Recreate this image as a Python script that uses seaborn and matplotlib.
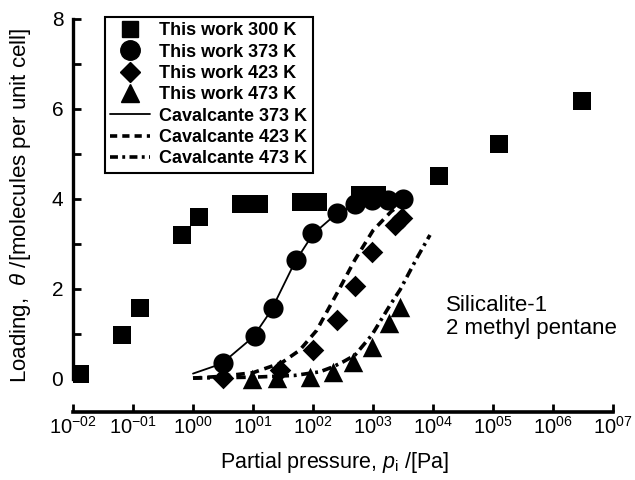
import matplotlib
matplotlib.use("Agg")
import matplotlib.pyplot as plt
import numpy as np
import pandas as pd
import seaborn as sns
from matplotlib.lines import Line2D
from matplotlib.ticker import FixedLocator, NullLocator

# ---------------- data ----------------
p_300 = [0.013, 0.066, 0.13, 0.66, 1.26, 6.3, 12.6, 63, 121, 610, 1170, 12600, 126000, 3.0e6]
theta_300 = [0.12, 0.98, 1.58, 3.20, 3.60, 3.89, 3.89, 3.93, 3.93, 4.09, 4.09, 4.51, 5.22, 6.18]

p_373 = [3.16, 10.8, 21.5, 52, 96, 250, 500, 960, 1780, 3160]
theta_373 = [0.36, 0.96, 1.58, 2.64, 3.24, 3.69, 3.89, 3.98, 3.98, 4.00]

p_423 = [3.16, 28, 100, 250, 500, 960, 2340, 3020]
theta_423 = [0.02, 0.20, 0.64, 1.31, 2.07, 2.82, 3.42, 3.58]

p_473 = [9.6, 25, 89, 215, 465, 960, 1860, 2820]
theta_473 = [0.00, 0.02, 0.04, 0.16, 0.38, 0.71, 1.24, 1.60]

cav_p_373 = [1, 3, 10, 20, 50, 100, 250, 500, 1000, 3000]
cav_theta_373 = [0.12, 0.34, 0.93, 1.52, 2.60, 3.22, 3.68, 3.86, 3.96, 4.02]

cav_p_423 = [1, 3, 10, 30, 60, 115, 250, 500, 1000, 2000, 2400]
cav_theta_423 = [0.02, 0.06, 0.14, 0.36, 0.64, 1.08, 1.90, 2.65, 3.30, 3.72, 3.80]

cav_p_473 = [1, 10, 50, 130, 215, 316, 500, 960, 1920, 2820, 5400, 8900]
cav_theta_473 = [0.02, 0.04, 0.08, 0.16, 0.27, 0.38, 0.53, 0.98, 1.64, 1.98, 2.69, 3.20]

x_ticks = [1e-2, 1e-1, 1e0, 1e1, 1e2, 1e3, 1e4, 1e5, 1e6, 1e7]
x_ticklabels = [r"$\mathregular{10^{-02}}$", r"$\mathregular{10^{-01}}$", r"$\mathregular{10^{00}}$",
                r"$\mathregular{10^{01}}$", r"$\mathregular{10^{02}}$", r"$\mathregular{10^{03}}$",
                r"$\mathregular{10^{04}}$", r"$\mathregular{10^{05}}$", r"$\mathregular{10^{06}}$",
                r"$\mathregular{10^{07}}$"]
y_ticks = [0, 2, 4, 6, 8]
y_minor = [1, 3, 5, 7]

legend_labels = ["This work 300 K", "This work 373 K", "This work 423 K", "This work 473 K",
                 "Cavalcante 373 K", "Cavalcante 423 K", "Cavalcante 473 K"]

# ---------------- style ----------------
sns.set_theme(style="ticks")
plt.rcParams["font.family"] = ["Liberation Sans", "DejaVu Sans"]
plt.rcParams["mathtext.fontset"] = "custom"
plt.rcParams["mathtext.rm"] = "Liberation Sans"
plt.rcParams["mathtext.it"] = "Liberation Sans:italic"
plt.rcParams["mathtext.bf"] = "Liberation Sans:bold"

W, H = 635, 480
fig = plt.figure(figsize=(W / 100, H / 100), dpi=100)
x0, x1 = 73, 613
y_top, y_bot = 19, 412
ax = fig.add_axes([x0 / W, 1 - y_bot / H, (x1 - x0) / W, (y_bot - y_top) / H])
ax.set_xscale("log")
ax.set_xlim(1e-2, 1e7)
ax.set_ylim(-(y_bot - 379) / 45.0, 8)

# ---------------- lines ----------------
sns.lineplot(x=cav_p_373, y=cav_theta_373, ax=ax, color="black", lw=1.3,
             estimator=None, sort=False, zorder=2)
sns.lineplot(x=cav_p_423, y=cav_theta_423, ax=ax, color="black", lw=2.6,
             linestyle=(0, (2.4, 1.6)), estimator=None, sort=False, zorder=2)
sns.lineplot(x=cav_p_473, y=cav_theta_473, ax=ax, color="black", lw=2.6,
             linestyle=(0, (2.6, 1.3, 0.8, 1.3)), estimator=None, sort=False, zorder=2)

# ---------------- markers ----------------
sns.scatterplot(x=p_300, y=theta_300, ax=ax, marker="s", s=12.5 ** 2, color="black",
                edgecolor="black", linewidth=0, zorder=3)
sns.scatterplot(x=p_373, y=theta_373, ax=ax, marker="o", s=14.5 ** 2, color="black",
                edgecolor="black", linewidth=0, zorder=3)
sns.scatterplot(x=p_423, y=theta_423, ax=ax, marker="D", s=11.0 ** 2, color="black",
                edgecolor="black", linewidth=0, zorder=3)
sns.scatterplot(x=p_473, y=theta_473, ax=ax, marker="^", s=14.0 ** 2, color="black",
                edgecolor="black", linewidth=0, zorder=3)

# ---------------- axes ----------------
for s in ["top", "right"]:
    ax.spines[s].set_visible(False)
ax.spines["left"].set_bounds(0, 8)
ax.spines["left"].set_linewidth(2.4)
ax.spines["bottom"].set_linewidth(2.6)
ax.spines["left"].set_color("black")
ax.spines["bottom"].set_color("black")

ax.xaxis.set_major_locator(FixedLocator(x_ticks))
ax.xaxis.set_minor_locator(NullLocator())
ax.set_xticks(x_ticks)
ax.set_xticklabels(x_ticklabels)
ax.set_yticks(y_ticks)
ax.set_yticks(y_minor, minor=True)

ax.tick_params(axis="x", which="major", direction="in", length=6, width=2, pad=3,
               labelsize=14.5, color="black", labelcolor="black")
ax.tick_params(axis="y", which="both", direction="in", length=6, width=2, pad=7,
               labelsize=15, color="black", labelcolor="black")

ax.set_xlabel(r"Partial pressure, $p_{\mathrm{i}}$ /[Pa]", fontsize=15.5, color="black")
ax.xaxis.set_label_coords((335 - x0) / (x1 - x0), -(450 - y_bot) / (y_bot - y_top))
ax.set_ylabel(r"Loading,  $\theta$ /[molecules per unit cell]", fontsize=16, color="black")
ax.yaxis.set_label_coords(-(x0 - 33) / (x1 - x0), (y_bot - 205) / (y_bot - y_top))
ax.grid(False)

# ---------------- annotation ----------------
ax.text((446 - x0) / (x1 - x0), (y_bot - 295) / (y_bot - y_top), "Silicalite-1\n2 methyl pentane",
        transform=ax.transAxes, ha="left", va="top", fontsize=16, linespacing=1.1, color="black")

# ---------------- legend ----------------
handles = [
    Line2D([], [], ls="none", marker="s", color="black", markersize=12),
    Line2D([], [], ls="none", marker="o", color="black", markersize=14),
    Line2D([], [], ls="none", marker="D", color="black", markersize=10.5),
    Line2D([], [], ls="none", marker="^", color="black", markersize=13),
    Line2D([], [], color="black", lw=1.3),
    Line2D([], [], color="black", lw=2.6, linestyle=(0, (2.0, 1.4))),
    Line2D([], [], color="black", lw=2.6, linestyle=(0, (2.2, 1.2, 0.8, 1.2))),
]
leg = ax.legend(handles, legend_labels, loc="upper left", bbox_to_anchor=(105 / W, 1 - 17 / H),
                bbox_transform=fig.transFigure, borderaxespad=0, frameon=True, fancybox=False,
                framealpha=1, edgecolor="black", prop={"weight": "bold", "size": 13},
                handlelength=2.2, handletextpad=0.5, labelspacing=0.24, borderpad=0.3)
leg.get_frame().set_linewidth(1.5)
for t in leg.get_texts():
    t.set_color("black")

fig.savefig("out.png", dpi=100, facecolor="white")
